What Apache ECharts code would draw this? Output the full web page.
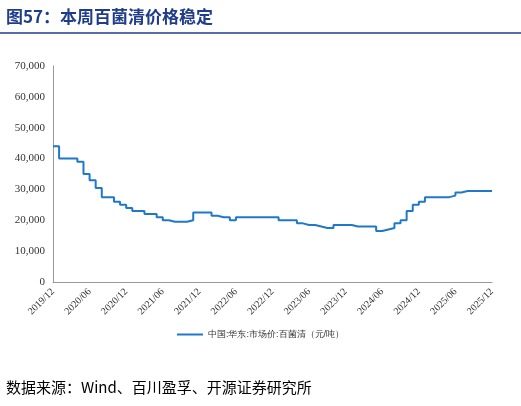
<!DOCTYPE html><html><head><meta charset="utf-8"><script src="https://cdn.jsdelivr.net/npm/echarts@6/dist/echarts.min.js"></script></head><body style="margin:0"><div id="c" style="width:521px;height:406px"></div><script>
const startYear=2019,startMonth=12;
const categories=[];for(let i=0;i<73;i++){const m=(startMonth-1+i)%12+1,y=startYear+Math.floor((startMonth-1+i)/12);categories.push(y+'/'+String(m).padStart(2,'0'));}
const values=[44000,40000,40000,40000,39000,35000,33000,30500,27500,27500,26000,25000,24000,23000,23000,22000,22000,21000,20000,19500,19500,19500,20000,22500,22500,22500,21500,21000,21000,20000,21000,21000,21000,21000,21000,21000,21000,20000,20000,20000,19000,18500,18500,18000,17500,17500,18500,18500,18500,18000,18000,18000,18000,16500,17000,17500,19000,20000,23000,25000,26000,27500,27500,27500,27500,28000,29000,29500,29500,29500,29500,29500,29500];
const seriesName='中国:华东:市场价:百菌清（元/吨）';
const serif='Liberation Serif';
echarts.init(document.getElementById('c')).setOption({animation:false,
graphic:[{type:'text',left:6,top:8,style:{text:'图57：本周百菌清价格稳定',fill:'#1f3d8a',font:'bold 17px "Noto Sans CJK SC"'}},
{type:'line',shape:{x1:0,y1:33,x2:521,y2:33},style:{stroke:'#1f3d8a',lineWidth:1.5}},
{type:'text',left:6,top:380,style:{text:'数据来源：Wind、百川盈孚、开源证券研究所',fill:'#000',font:'15px "Noto Sans CJK SC"'}}],
grid:{left:53,right:29,top:66,bottom:124},
legend:{bottom:62,left:'center',itemWidth:26,itemHeight:2,icon:'rect',textStyle:{fontSize:9,color:'#333'}},
xAxis:{type:'category',data:categories,boundaryGap:false,axisLine:{lineStyle:{color:'#999'}},axisTick:{show:false},
axisLabel:{interval:5,rotate:45,fontFamily:serif,fontSize:10,color:'#333',showMaxLabel:true}},
yAxis:{type:'value',min:0,max:70000,interval:10000,splitLine:{show:false},axisLine:{show:true,lineStyle:{color:'#999'}},
axisLabel:{formatter:v=>v.toLocaleString('en-US'),fontFamily:serif,fontSize:11,color:'#333'}},
series:[{name:seriesName,type:'line',step:'end',data:values,showSymbol:false,lineStyle:{color:'#1f78c8',width:2},itemStyle:{color:'#1f78c8'}}]});
</script></body></html>
